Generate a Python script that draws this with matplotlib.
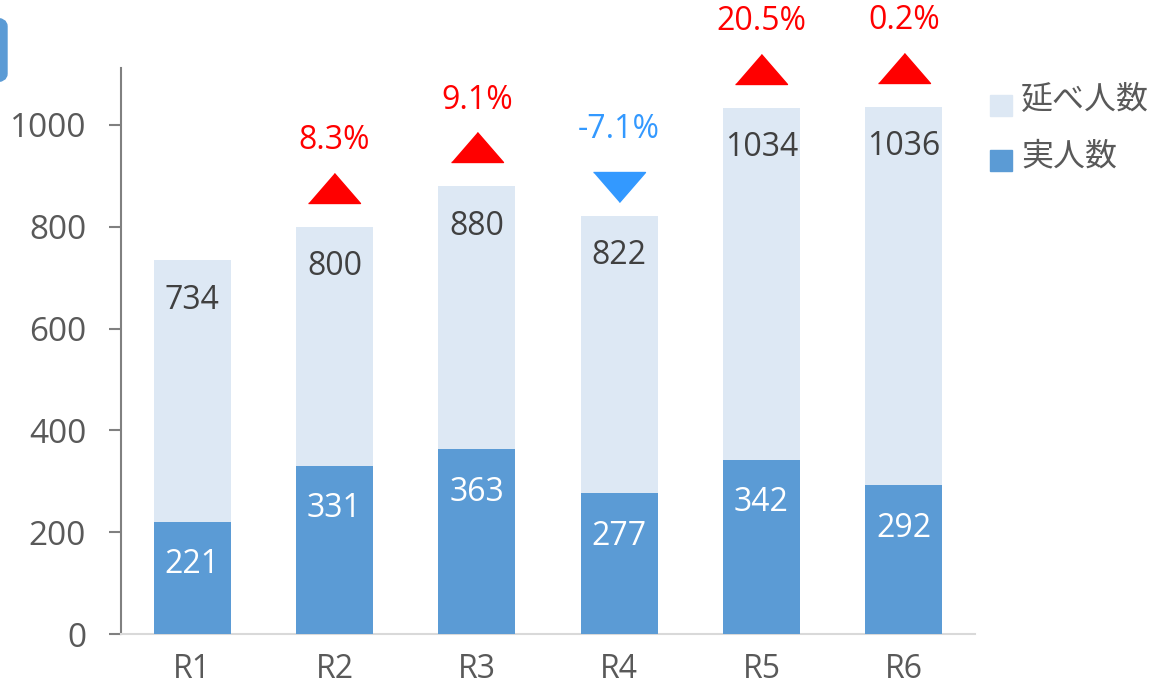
import matplotlib.pyplot as plt
from matplotlib.patches import Rectangle, FancyBboxPatch
from matplotlib.transforms import ScaledTranslation

plt.rcParams['font.family'] = ['Open Sans', 'Noto Sans CJK JP']

years = ['R1', 'R2', 'R3', 'R4', 'R5', 'R6']
nobe = [734, 800, 880, 822, 1034, 1036]      # 延べ人数
jitsu = [221, 331, 363, 277, 342, 292]       # 実人数
change = [None, 8.3, 9.1, -7.1, 20.5, 0.2]   # 前年比 (%)

light = '#DDE8F4'
dark = '#5B9BD5'
up_col = '#FF0000'
down_col = '#3399FF'
fs = 23

fig = plt.figure(figsize=(11.53, 6.86), dpi=100)
ax = fig.add_axes([0.1049, 0.0758, 0.7407, 0.8251])

x = list(range(len(years)))
ax.bar(x, nobe, width=0.54, color=light, zorder=2)
ax.bar(x, jitsu, width=0.54, color=dark, zorder=3)

for i in x:
    ax.annotate(str(nobe[i]), (i, nobe[i]), xytext=(0, -40), textcoords='offset pixels',
                ha='center', va='center', fontsize=fs, color='#404040', zorder=4)
    ax.annotate(str(jitsu[i]), (i, jitsu[i]), xytext=(0, -43), textcoords='offset pixels',
                ha='center', va='center', fontsize=fs, color='white', zorder=4)
    c = change[i]
    if c is None:
        continue
    if c >= 0:
        col = up_col
        tri = [(-1, -0.577), (1, -0.577), (0, 0.577)]
        off = 39
    else:
        col = down_col
        tri = [(-1, 0.577), (1, 0.577), (0, -0.577)]
        off = 29
    ax.plot([i], [nobe[i]], marker=tri, markersize=37.4, color=col, linestyle='none',
            transform=ax.transData + ScaledTranslation(0, off / 100, fig.dpi_scale_trans),
            clip_on=False, zorder=5)
    ax.annotate(f'{c:.1f}%', (i, nobe[i]), xytext=(0, 86), textcoords='offset pixels',
                ha='center', va='center', fontsize=fs, color=col, annotation_clip=False)

ax.set_xlim(-0.5, 5.5)
ax.set_ylim(0, 1112)
ax.set_yticks([0, 200, 400, 600, 800, 1000])
ax.set_xticks(x)
ax.set_xticklabels(years)
ax.tick_params(axis='y', labelsize=24, labelcolor='#595959', color='#808080',
               length=9, width=1.5, pad=16)
ax.tick_params(axis='x', labelsize=fs, labelcolor='#595959', length=0, pad=14)
for s in ['top', 'right']:
    ax.spines[s].set_visible(False)
ax.spines['left'].set_color('#808080')
ax.spines['left'].set_linewidth(1.5)
ax.spines['bottom'].set_color('#D9D9D9')
ax.spines['bottom'].set_linewidth(1.5)

# legend
W, H = 1153, 686
fig.add_artist(Rectangle((990 / W, (H - 116) / H), 22 / W, 21 / H, transform=fig.transFigure,
                         color=light))
fig.add_artist(Rectangle((990 / W, (H - 171) / H), 22 / W, 21 / H, transform=fig.transFigure,
                         color=dark))
fig.text(1021 / W, (H - 100) / H, '延べ人数', fontsize=fs, color='#595959', va='center',
         family=['Noto Sans CJK JP'])
fig.text(1021 / W, (H - 156) / H, '実人数', fontsize=fs, color='#595959', va='center',
         family=['Noto Sans CJK JP'])

# corner decoration
fig.add_artist(FancyBboxPatch((-20 / W, (H - 82) / H), 27 / W, 64 / H,
                              boxstyle='round,pad=0,rounding_size=0.012',
                              transform=fig.transFigure, color=dark, clip_on=False))

fig.savefig('out.png', dpi=100)
